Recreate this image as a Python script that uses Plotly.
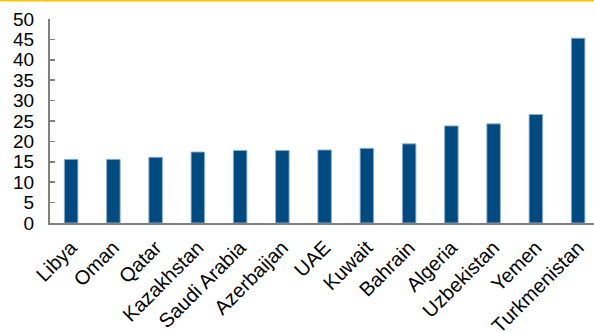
import plotly.graph_objects as go

countries = ["Libya", "Oman", "Qatar", "Kazakhstan", "Saudi Arabia", "Azerbaijan",
             "UAE", "Kuwait", "Bahrain", "Algeria", "Uzbekistan", "Yemen", "Turkmenistan"]
values = [15.6, 15.6, 16.1, 17.4, 17.8, 17.8, 17.9, 18.3, 19.4, 23.8, 24.3, 26.6, 45.3]
y_ticks = [0, 5, 10, 15, 20, 25, 30, 35, 40, 45, 50]

fig = go.Figure(go.Bar(
    x=countries, y=values, width=0.32,
    marker=dict(color="#004A82", line=dict(color="rgba(140,175,210,0.9)", width=1)),
))

fig.update_layout(
    width=594, height=332,
    margin=dict(l=50, r=0, t=19, b=109),
    paper_bgcolor="white", plot_bgcolor="white",
    font=dict(family="Liberation Sans, Arial, sans-serif", size=19, color="black"),
    showlegend=False,
    bargap=0,
)
fig.add_shape(type="line", xref="paper", yref="paper",
              x0=-50/544, x1=1, y0=1 + 18.5/204, y1=1 + 18.5/204,
              line=dict(color="#FFC400", width=2))

fig.update_xaxes(
    range=[-0.5, 12.376], showline=True, linecolor="#808080", linewidth=2,
    ticks="", tickangle=-45, showgrid=False, zeroline=False, fixedrange=True,
    automargin=False, tickfont=dict(size=20), ticklabelstandoff=3,
)
fig.update_yaxes(
    range=[0, 50], tickvals=y_ticks, showline=True, linecolor="#808080", linewidth=2,
    ticks="inside", ticklen=5, tickwidth=1.5, tickcolor="#808080",
    ticklabelstandoff=10, showgrid=False, zeroline=False, fixedrange=True,
    automargin=False, tickfont=dict(size=19),
)

fig.write_html(
    "out.html",
    config={"displayModeBar": False, "staticPlot": True},
    post_script="document.body.style.margin='0';document.body.style.overflow='hidden';",
)
